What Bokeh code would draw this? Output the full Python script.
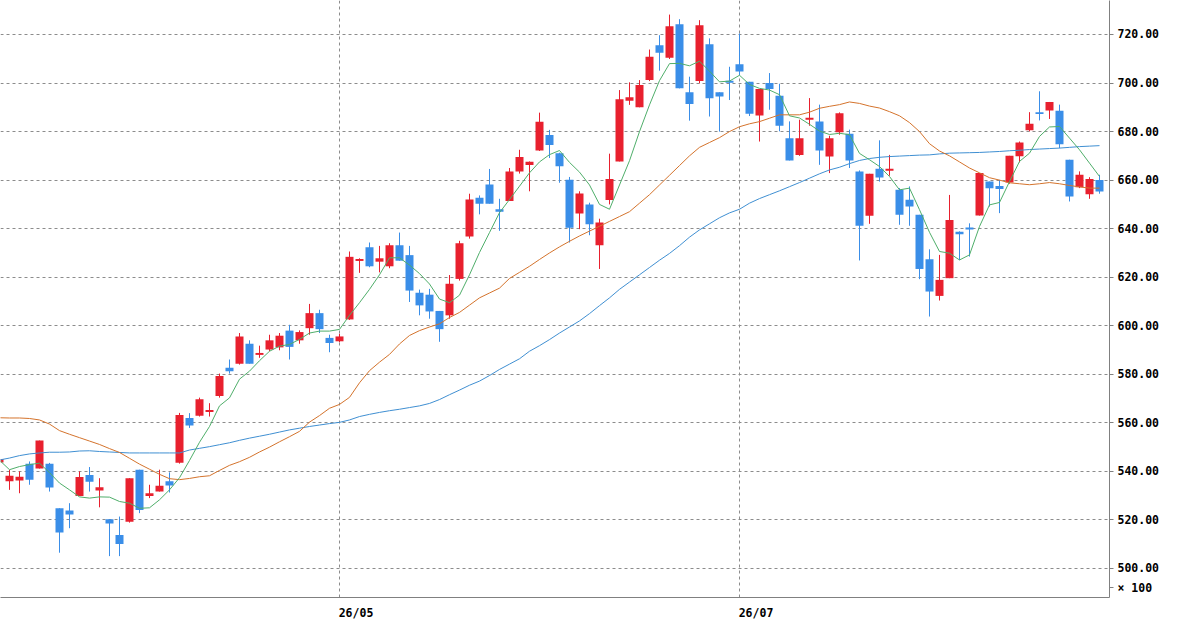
from bokeh.plotting import figure
from bokeh.models import Range1d, FixedTicker, PrintfTickFormatter, ColumnDataSource
from bokeh.embed import file_html
from bokeh.resources import INLINE

# ---- data; index -1 is the partly hidden first candle ----
start_index = -1
opens = [543.7,
         535.9, 536.3, 543.2, 541.2, 543.2, 524.8, 523.9, 529.9, 538.5, 532.1,
         520.3, 513.8, 519.3, 540.7, 529.9, 531.7, 535.9, 543.6, 562.0, 562.9,
         564.5, 571.1, 582.7, 584.4, 592.6, 588.0, 590.2, 591.1, 598.0, 594.0,
         599.0, 605.2, 595.0, 593.6, 602.6, 626.7, 632.3, 626.4, 624.5, 633.2,
         629.1, 613.6, 612.8, 606.1, 604.3, 619.3, 636.8, 652.7, 658.2, 648.0,
         651.4, 663.6, 666.2, 672.2, 678.6, 671.1, 660.2, 646.3, 650.0, 633.2,
         651.8, 667.7, 692.7, 690.0, 701.2, 715.6, 710.4, 724.2, 696.2, 700.8,
         716.0, 696.2, 700.7, 707.7, 700.5, 686.6, 700.0, 694.8, 677.3, 670.4,
         684.9, 684.2, 669.7, 679.7, 679.1, 663.6, 645.3, 664.7, 664.0, 656.0,
         651.9, 645.7, 627.4, 612.3, 619.6, 638.7, 640.3, 645.4, 659.4, 657.6,
         659.0, 669.8, 680.5, 688.0, 688.7, 688.6, 668.4, 657.1, 654.2, 660.1]
highs = [545.6,
         540.7, 540.0, 544.1, 552.7, 543.5, 524.8, 526.9, 540.0, 541.8, 537.2,
         520.3, 521.4, 537.2, 540.7, 534.5, 540.7, 539.6, 564.1, 564.0, 570.4,
         568.1, 580.3, 586.1, 597.0, 594.0, 591.8, 596.3, 597.0, 600.4, 598.1,
         609.0, 606.6, 596.3, 596.7, 630.6, 627.8, 634.3, 632.9, 634.0, 638.4,
         632.9, 614.9, 615.2, 606.1, 620.9, 635.0, 654.4, 653.7, 664.6, 652.3,
         665.0, 672.5, 667.7, 687.8, 680.7, 671.3, 661.3, 655.4, 650.7, 644.1,
         670.9, 697.1, 700.3, 701.2, 713.8, 719.7, 728.2, 726.3, 702.6, 725.9,
         718.4, 696.2, 706.7, 720.4, 700.5, 697.5, 704.1, 699.7, 684.2, 684.9,
         693.8, 691.1, 678.3, 687.9, 680.8, 664.0, 662.6, 676.4, 670.4, 656.7,
         657.4, 645.7, 631.5, 629.2, 653.9, 638.9, 642.2, 662.9, 659.4, 660.1,
         670.0, 675.9, 688.0, 696.6, 692.2, 691.1, 668.4, 663.6, 661.2, 662.2]
lows = [543.3,
        532.4, 531.0, 534.5, 541.2, 531.7, 506.5, 516.6, 529.9, 531.7, 525.2,
        505.1, 505.1, 518.9, 522.8, 529.0, 531.7, 531.3, 543.2, 557.9, 562.6,
        562.6, 570.4, 580.3, 584.0, 584.4, 586.8, 589.5, 589.9, 586.1, 592.6,
        596.3, 597.0, 589.1, 593.2, 602.4, 621.8, 624.1, 622.0, 623.7, 626.8,
        609.8, 604.3, 602.9, 593.4, 602.9, 618.6, 635.9, 645.9, 650.3, 639.1,
        651.4, 662.7, 655.4, 672.0, 669.1, 658.9, 634.3, 639.8, 637.3, 623.4,
        650.0, 667.7, 691.0, 690.0, 700.8, 705.1, 709.9, 697.8, 684.5, 699.9,
        686.2, 680.0, 693.0, 703.3, 686.4, 675.9, 689.0, 680.1, 668.1, 670.0,
        682.4, 666.3, 662.9, 678.7, 665.0, 626.9, 642.0, 659.4, 661.8, 641.6,
        641.2, 619.2, 603.8, 610.4, 619.6, 627.1, 628.5, 645.4, 649.1, 646.4,
        658.5, 667.3, 680.1, 684.6, 685.2, 673.2, 651.2, 656.7, 652.3, 654.4]
closes = [545.1,
          538.2, 537.8, 536.6, 552.7, 533.4, 514.8, 522.2, 537.7, 535.7, 533.5,
          518.5, 510.1, 537.2, 524.1, 531.0, 534.1, 534.2, 563.2, 558.9, 569.7,
          565.3, 579.3, 581.3, 595.6, 584.4, 588.8, 594.0, 595.9, 591.3, 597.4,
          605.2, 598.6, 592.9, 595.6, 628.4, 627.5, 624.5, 627.8, 633.2, 626.8,
          614.5, 608.4, 605.9, 598.6, 617.3, 634.0, 652.0, 650.3, 650.3, 647.0,
          663.6, 669.5, 667.6, 684.0, 674.5, 665.7, 640.4, 654.5, 641.8, 642.5,
          660.5, 693.3, 694.1, 699.2, 710.8, 712.5, 723.4, 697.8, 691.4, 723.8,
          693.7, 694.4, 700.4, 704.7, 687.3, 697.5, 697.5, 682.4, 668.1, 677.3,
          685.6, 672.2, 677.3, 687.6, 668.1, 641.2, 662.6, 661.1, 664.5, 645.7,
          649.1, 623.4, 614.1, 618.9, 643.6, 637.7, 639.8, 662.9, 656.7, 656.3,
          670.0, 675.5, 683.2, 687.2, 692.2, 674.8, 653.3, 662.2, 660.5, 655.3]

ma_short = [544.6,
            540.7, 542.0, 542.8, 543.4, 539.5, 535.2, 532.4, 529.5, 529.0, 529.5,
            529.4, 527.6, 526.9, 524.8, 525.0, 528.3, 532.4, 537.4, 544.5, 552.0,
            558.5, 567.0, 570.3, 578.0, 581.3, 585.6, 589.5, 591.6, 592.3, 594.4,
            597.0, 597.8, 597.8, 598.5, 604.3, 609.5, 615.0, 621.0, 628.0, 628.0,
            625.0, 621.5, 617.2, 611.0, 609.5, 612.6, 621.0, 630.2, 638.4, 646.6,
            652.0, 657.5, 663.0, 667.5, 670.5, 672.2, 667.3, 663.3, 658.0, 650.0,
            648.0, 658.0, 668.0, 680.0, 691.0, 701.0, 708.0, 708.1, 707.1, 709.0,
            704.9, 700.5, 700.8, 703.2, 699.4, 697.8, 697.1, 695.2, 686.5, 685.6,
            683.0, 680.2, 678.8, 679.3, 678.7, 671.0, 668.4, 665.6, 661.5, 656.0,
            656.7, 647.8, 638.5, 630.6, 629.9, 627.1, 629.2, 640.9, 649.8, 650.8,
            659.4, 667.7, 671.1, 678.0, 681.9, 682.1, 677.3, 672.5, 667.0, 661.5]
ma_mid = [562.1,
          562.0, 562.0, 561.8, 561.2, 559.5, 556.8, 555.3, 553.9, 552.5, 551.1,
          549.4, 547.8, 545.4, 543.0, 540.9, 538.8, 537.0, 536.6, 537.1, 537.8,
          538.2, 540.4, 542.5, 544.0, 545.8, 548.0, 550.0, 552.2, 554.3, 556.5,
          560.3, 563.0, 566.0, 567.6, 570.5, 576.5, 581.5, 585.0, 588.2, 592.5,
          596.0, 598.0, 599.5, 600.8, 603.4, 605.5, 608.5, 611.5, 613.5, 615.5,
          619.5, 622.0, 624.5, 627.3, 630.0, 632.5, 634.8, 637.0, 639.0, 641.0,
          643.0, 645.0, 647.0, 650.5, 654.0, 658.0, 662.0, 666.0, 670.0, 673.5,
          675.5, 677.5, 680.0, 682.0, 683.2, 684.1, 685.5, 686.9, 686.9, 686.9,
          688.0, 689.6, 690.4, 691.1, 692.2, 691.6, 690.5, 689.7, 688.2, 686.5,
          683.7, 680.0, 675.0, 672.0, 670.0, 667.5, 665.0, 663.0, 661.0, 660.0,
          658.9, 658.5, 658.1, 658.5, 659.0, 658.5, 657.8, 657.2, 656.7, 656.7]
ma_long = [544.7,
           545.5, 546.5, 547.2, 547.6, 547.9, 547.9, 548.0, 548.4, 548.5, 548.2,
           548.0, 547.8, 547.6, 547.6, 547.6, 547.6, 547.6, 547.6, 548.8, 549.5,
           550.2, 551.0, 551.8, 552.8, 553.7, 554.5, 555.3, 556.2, 557.1, 557.8,
           558.5, 559.1, 559.7, 560.2, 561.2, 562.6, 563.5, 564.3, 565.0, 565.6,
           566.3, 567.0, 568.0, 569.6, 571.6, 573.5, 575.5, 577.2, 579.5, 582.0,
           584.2, 586.4, 589.5, 591.8, 594.3, 597.0, 599.5, 602.0, 605.0, 608.3,
           611.5, 615.0, 618.0, 621.0, 624.0, 627.0, 629.8, 633.0, 636.5, 639.5,
           642.0, 644.5, 646.5, 648.0, 650.5, 652.4, 654.0, 655.6, 657.3, 659.0,
           660.8, 662.6, 664.2, 665.3, 666.8, 668.1, 668.9, 669.4, 669.7, 669.9,
           670.1, 670.3, 670.4, 670.8, 671.1, 671.2, 671.3, 671.4, 671.6, 671.8,
           672.1, 672.3, 672.6, 672.8, 673.0, 673.2, 673.5, 673.8, 674.0, 674.2]

price_ticks = [500, 520, 540, 560, 580, 600, 620, 640, 660, 680, 700, 720]
date_ticks = [33, 73]
date_labels = ["26/05", "26/07"]
scale_note = "× 100"
scale_note_at = 492.1   # price level where the multiplier note sits

# ---- styles ----
UP = "#e8202e"
DOWN = "#3a8ee8"
GRID = "#8c8c8c"
AXIS = "#808080"
FONT = "DejaVu Sans Mono"
FONT_SIZE = "11.5px"
LABEL_SHIFT = 1.65      # date labels start at their gridline (offset of label centre)

idx = list(range(start_index, start_index + len(opens)))
colors = [UP if c >= o else DOWN for o, c in zip(opens, closes)]
body_top, body_bot = [], []
for o, c in zip(opens, closes):
    t, b = max(o, c), min(o, c)
    if t - b < 0.8:
        m = (t + b) / 2
        t, b = m + 0.4, m - 0.4
    body_top.append(t)
    body_bot.append(b)

src = ColumnDataSource(dict(x=idx, o=opens, h=highs, l=lows, c=closes,
                            top=body_top, bot=body_bot, color=colors,
                            m5=ma_short, m25=ma_mid, m75=ma_long))

p = figure(frame_width=1109, frame_height=597,
           x_range=Range1d(-0.9, 110.0), y_range=Range1d(488.05, 734.0),
           output_backend="svg", toolbar_location=None,
           y_axis_location="right",
           min_border_left=0, min_border_top=0, min_border_right=58,
           min_border_bottom=0, outline_line_color=None,
           background_fill_color="white", border_fill_color="white")

# grids
p.xgrid.ticker = FixedTicker(ticks=date_ticks)
p.xgrid.grid_line_color = GRID
p.xgrid.grid_line_dash = "3 3"
p.ygrid.ticker = FixedTicker(ticks=price_ticks)
p.ygrid.grid_line_color = GRID
p.ygrid.grid_line_dash = "3 3"

# candles
p.segment(x0="x", y0="l", x1="x", y1="h", color="color", line_width=1, source=src)
p.vbar(x="x", width=0.8, top="top", bottom="bot", fill_color="color",
       line_color=None, source=src)

# moving averages
p.line("x", "m75", source=src, line_color="#3f8fd2", line_width=1)
p.line("x", "m25", source=src, line_color="#d4732c", line_width=1)
p.line("x", "m5", source=src, line_color="#4fae6a", line_width=1)

# y axis (right)
ya = p.yaxis[0]
ya.ticker = FixedTicker(ticks=price_ticks + [scale_note_at])
ya.formatter = PrintfTickFormatter(format="%.2f")
ya.major_label_overrides = {scale_note_at: scale_note}
ya.axis_line_color = AXIS
ya.major_tick_line_color = AXIS
ya.major_tick_out = 4
ya.major_tick_in = 0
ya.minor_tick_line_color = None
ya.major_label_standoff = 4
ya.major_label_text_font = FONT
ya.major_label_text_font_style = "bold"
ya.major_label_text_font_size = FONT_SIZE
ya.major_label_text_color = "black"

# x axis (below)
label_pos = [t + LABEL_SHIFT for t in date_ticks]
xa = p.xaxis[0]
xa.ticker = FixedTicker(ticks=label_pos)
xa.major_label_overrides = {t: s for t, s in zip(label_pos, date_labels)}
xa.axis_line_color = AXIS
xa.major_tick_line_color = None
xa.major_tick_out = 8
xa.major_tick_in = 0
xa.minor_tick_line_color = None
xa.major_label_standoff = 0
xa.major_label_text_font = FONT
xa.major_label_text_font_style = "bold"
xa.major_label_text_font_size = FONT_SIZE
xa.major_label_text_color = "black"

open("out.html", "w").write(file_html(p, INLINE))
